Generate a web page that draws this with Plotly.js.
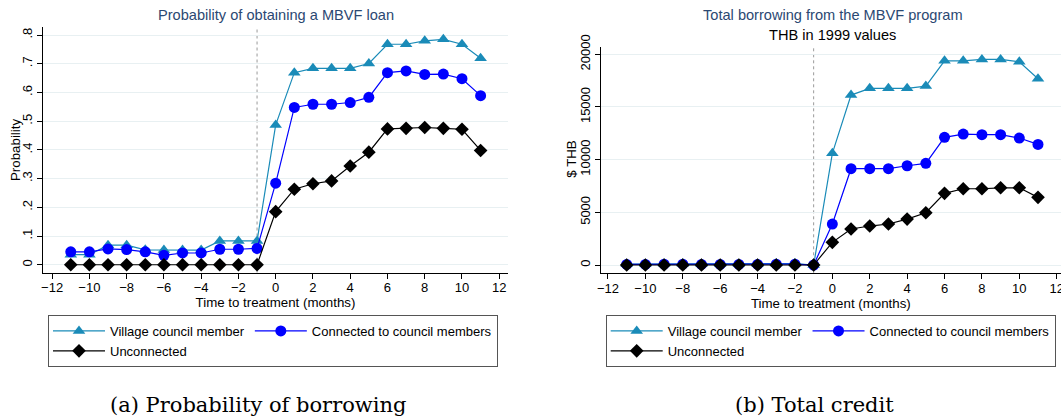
<!DOCTYPE html>
<html>
<head>
<meta charset="utf-8">
<script src="https://cdn.plot.ly/plotly-3.0.1.min.js"></script>
<style>html,body{margin:0;padding:0;background:#fff;}#chart{width:1061px;height:418px;}</style>
</head>
<body>
<div id="chart"></div>
<script>
// ---- data ----
var months = [-11,-10,-9,-8,-7,-6,-5,-4,-3,-2,-1,0,1,2,3,4,5,6,7,8,9,10,11];
var seriesNames = ["Village council member", "Connected to council members", "Unconnected"];

var probVillage     = [0.035,0.035,0.068,0.068,0.052,0.051,0.051,0.051,0.083,0.083,0.083,0.487,0.669,0.684,0.684,0.684,0.701,0.768,0.768,0.780,0.785,0.768,0.719];
var probConnected   = [0.045,0.045,0.055,0.053,0.045,0.033,0.041,0.041,0.054,0.054,0.057,0.284,0.548,0.559,0.559,0.565,0.583,0.669,0.675,0.663,0.664,0.648,0.589];
var probUnconnected = [0,0,0,0,0,0,0,0,0,0,0,0.185,0.263,0.282,0.292,0.344,0.392,0.473,0.475,0.478,0.475,0.472,0.398];

var creditVillage     = [90,90,120,120,100,90,90,90,140,140,0,10600,16130,16770,16770,16770,16980,19380,19380,19510,19510,19290,17680];
var creditConnected   = [60,60,80,80,60,50,60,60,80,80,0,3890,9140,9140,9140,9420,9650,12120,12430,12370,12370,12050,11450];
var creditUnconnected = [0,0,0,0,0,0,0,0,0,0,0,2150,3420,3700,3890,4360,4960,6800,7240,7240,7330,7330,6420];

var xTicks = [-12,-10,-8,-6,-4,-2,0,2,4,6,8,10,12];
var probTicks = [0,0.1,0.2,0.3,0.4,0.5,0.6,0.7,0.8];
var probTickText = ["0",".1",".2",".3",".4",".5",".6",".7",".8"];
var creditTicks = [0,5000,10000,15000,20000];
var creditTickText = ["0","5000","10000","15000","20000"];

var titleA = "Probability of obtaining a MBVF loan";
var titleB = "Total borrowing from the MBVF program";
var subtitleB = "THB in 1999 values";
var xTitle = "Time to treatment (months)";
var yTitleA = "Probability";
var yTitleB = "$ THB";
var captionA = "(a) Probability of borrowing";
var captionB = "(b) Total credit";

// ---- styles ----
var FONT = "Liberation Sans";
var styles = [
  {color:"#1a8bb8", symbol:"triangle-up", size:11, group:"g1"},
  {color:"#0000ff", symbol:"circle", size:11, group:"g2"},
  {color:"#000000", symbol:"diamond", size:10.5, group:"g1"}
];

function mk(y, i, xa, ya, leg){
  var s = styles[i];
  return {x: months, y: y, type:"scatter", mode:"lines+markers", name: seriesNames[i],
    xaxis: xa, yaxis: ya, legend: leg, legendgroup: s.group,
    line:{color:s.color, width:1.2},
    marker:{color:s.color, symbol:s.symbol, size:s.size, line:{width:0}},
    hoverinfo:"x+y"};
}

var data = [
  mk(probVillage,0,"x","y","legend"),
  mk(probConnected,1,"x","y","legend"),
  mk(probUnconnected,2,"x","y","legend"),
  mk(creditVillage,0,"x2","y2","legend2"),
  mk(creditConnected,1,"x2","y2","legend2"),
  mk(creditUnconnected,2,"x2","y2","legend2")
];

function xax(domain, range, anchor){
  return {domain:domain, range:range, anchor:anchor, tickvals:xTicks, ticks:"outside", ticklen:5,
    tickcolor:"#000", showline:true, linecolor:"#000", linewidth:1, showgrid:false, zeroline:false,
    tickfont:{family:FONT, size:13, color:"#000"}, ticklabeloverflow:"allow", ticklabelstandoff:-2,
    title:{text:xTitle, font:{family:FONT, size:13.3,color:"#000"}, standoff:2}};
}
function yax(domain, range, anchor, tv, tt){
  return {domain:domain, range:range, anchor:anchor, tickvals:tv, ticktext:tt, ticks:"outside", ticklen:5,
    tickcolor:"#000", showline:true, linecolor:"#000", linewidth:1, showgrid:true, gridcolor:"#e8f0f2",
    gridwidth:1, zeroline:false, tickangle:-90, tickfont:{family:FONT, size:13,color:"#000"}};
}

var W = 1061, H = 418;
function ann(text, px, py, size, color, family, angle){
  var a = {text:text, xref:"paper", yref:"paper", x:px/W, y:1-py/H, xanchor:"center", yanchor:"middle",
    showarrow:false, font:{family:family||FONT, size:size, color:color}};
  if (angle) a.textangle = angle;
  return a;
}
var legendBase = {xanchor:"left", yanchor:"top", orientation:"h", itemwidth:52,
    bordercolor:"#555", borderwidth:1, bgcolor:"#fff", font:{size:13, family:FONT}, tracegroupgap:16};

var layout = {
  width:W, height:H, margin:{l:0,r:0,t:0,b:0}, paper_bgcolor:"#fff", plot_bgcolor:"#fff",
  font:{family:FONT, size:13, color:"#000"},
  showlegend:true,
  xaxis: xax([43/W, 508/W], [-12.49, 12.47], "y"),
  yaxis: yax([1-272.5/H, 1-27.3/H], [-0.027, 0.827], "x", probTicks, probTickText),
  xaxis2: xax([600.7/W, 1], [-12.39, 12.23], "y2"),
  yaxis2: yax([1-273.3/H, 1-46.7/H], [-787, 20721], "x2", creditTicks, creditTickText),
  legend: Object.assign({x:48/W, y:1-315/H}, legendBase),
  legend2: Object.assign({x:605.7/W, y:1-315/H}, legendBase),
  shapes: [
    {type:"line", xref:"x", yref:"y domain", x0:-1, x1:-1, y0:0, y1:1, layer:"below",
     line:{color:"#9a9a9a", width:1, dash:"dot"}},
    {type:"line", xref:"x2", yref:"y2 domain", x0:-1, x1:-1, y0:0, y1:1, layer:"below",
     line:{color:"#9a9a9a", width:1, dash:"dot"}}
  ],
  annotations: [
    ann(titleA, 275.5, 15, 14.6, "#2b4872"),
    ann(titleB, 832.5, 15, 14.6, "#2b4872"),
    ann(subtitleB, 832.5, 35, 14.6, "#000"),
    ann(yTitleA, 15, 150, 13.3, "#000", null, -90),
    ann(yTitleB, 571.7, 159, 13.3, "#000", null, -90),
    ann(captionA, 257.5, 405, 21, "#000", "DejaVu Serif"),
    ann(captionB, 814, 405, 21, "#000", "DejaVu Serif")
  ]
};

Plotly.newPlot("chart", data, layout, {displayModeBar:false, staticPlot:true});
</script>
</body>
</html>
